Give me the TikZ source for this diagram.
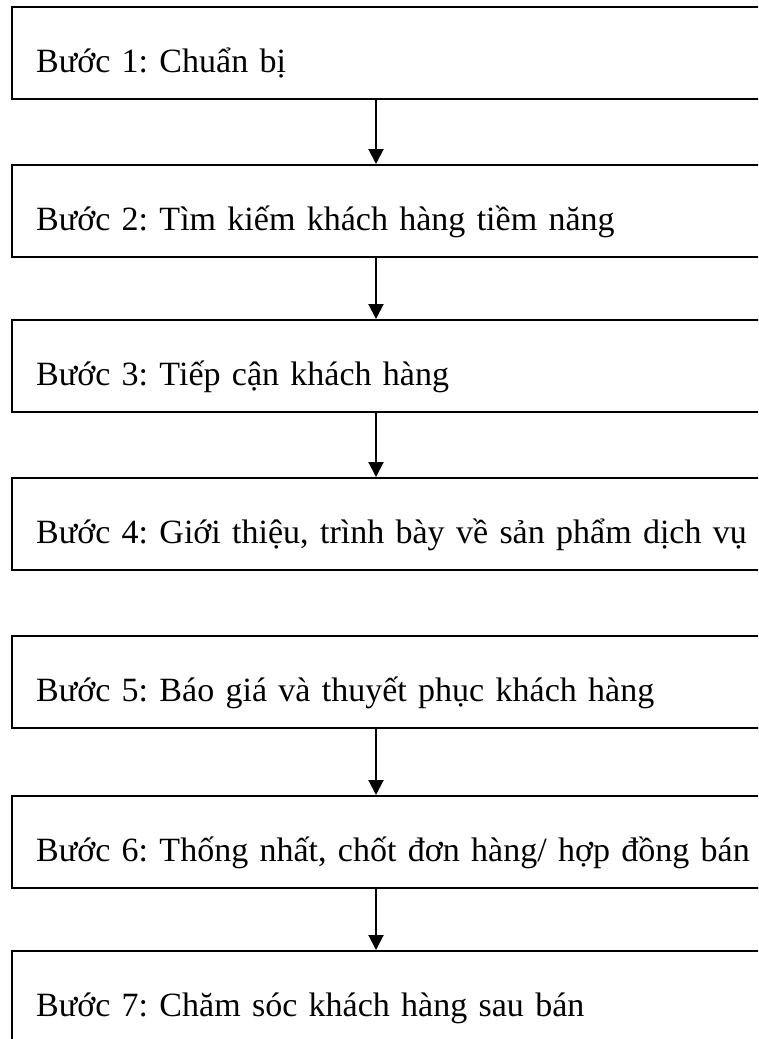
\documentclass[tikz,border=0pt]{standalone}
\usepackage{fontspec}
\setmainfont{Liberation Serif}
\usetikzlibrary{arrows.meta}
\frenchspacing
\begin{document}
\begin{tikzpicture}[x=1pt,y=-1pt,
  stepbox/.style={draw=black, line width=2.4pt, rectangle, anchor=north west,
    minimum height=92pt, text width=760pt, align=left,
    inner xsep=24pt, inner ysep=0pt, text height=44pt, text depth=6pt,
    font=\fontsize{34}{40}\selectfont\frenchspacing},
  arr/.style={line width=2pt, -{Triangle[width=15pt,length=15pt]}}]
\useasboundingbox (0,0) rectangle (758,1039);
\clip (0,0) rectangle (758,1039);
\node[stepbox] (b1) at (11,6) {Bước 1: Chuẩn bị};
\node[stepbox] (b2) at (11,164) {Bước 2: Tìm kiếm khách hàng tiềm năng};
\node[stepbox] (b3) at (11,319) {Bước 3: Tiếp cận khách hàng};
\node[stepbox] (b4) at (11,477) {Bước 4: Giới thiệu, trình bày về sản phẩm dịch vụ};
\node[stepbox] (b5) at (11,635) {Bước 5: Báo giá và thuyết phục khách hàng};
\node[stepbox] (b6) at (11,795) {Bước 6: Thống nhất, chốt đơn hàng/ hợp đồng bán};
\node[stepbox, minimum height=96pt, text depth=10pt] (b7) at (11,950) {Bước 7: Chăm sóc khách hàng sau bán};
\coordinate (ax) at (376,0);
\draw[arr] (b1.south -| ax) -- (b2.north -| ax);
\draw[arr] (b2.south -| ax) -- (b3.north -| ax);
\draw[arr] (b3.south -| ax) -- (b4.north -| ax);
\draw[arr] (b5.south -| ax) -- (b6.north -| ax);
\draw[arr] (b6.south -| ax) -- (b7.north -| ax);
\end{tikzpicture}
\end{document}
